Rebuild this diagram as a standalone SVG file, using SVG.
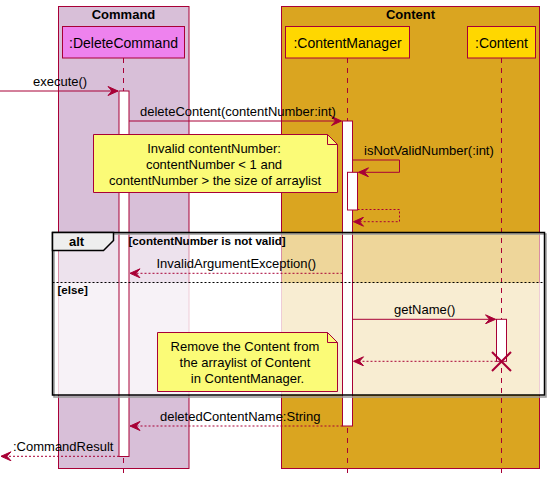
<svg xmlns="http://www.w3.org/2000/svg" width="551" height="480" viewBox="0 0 551 480">
<style>
text{font-family:"Liberation Sans",Arial,sans-serif;fill:#000}
.t{font-size:13px;font-weight:bold}
.p{font-size:14px}
.m{font-size:13px}
.g{font-size:11.6px;font-weight:bold}
.box{stroke:#A80036;stroke-width:1}
.life{stroke:#A80036;stroke-width:1;stroke-dasharray:5,5;fill:none}
.act{fill:#fff;stroke:#A80036;stroke-width:1}
.msg{stroke:#A80036;stroke-width:1;fill:none;marker-end:url(#ah)}
.ret{stroke:#A80036;stroke-width:1;fill:none;stroke-dasharray:2,2;marker-end:url(#ah)}
.note{fill:#FBFB77;stroke:#A80036;stroke-width:1}
</style>
<defs>
<marker id="ah" viewBox="-11 -5 12 10" markerWidth="12" markerHeight="10" refX="0" refY="0" orient="auto" markerUnits="userSpaceOnUse">
<path d="M0,0 L-10,-4.5 L-6,0 L-10,4.5 Z" fill="#A80036" stroke="#A80036" stroke-width="1"/>
</marker>
</defs>
<rect width="551" height="480" fill="#fff"/>
<g id="box-command">
<rect class="box" x="58.5" y="6.5" width="130.5" height="462" fill="#D8BFD8"/>
<text class="t" x="123.5" y="19" text-anchor="middle">Command</text>
</g>
<g id="box-content">
<rect class="box" x="281.5" y="6.5" width="258" height="462" fill="#DAA520"/>
<text class="t" x="410.5" y="19" text-anchor="middle">Content</text>
</g>
<g id="alt-bg">
<rect x="52" y="232" width="493" height="50.5" fill="#fff" fill-opacity="0.55"/>
<rect x="52" y="282.5" width="493" height="112.5" fill="#fff" fill-opacity="0.8"/>
</g>
<g id="lifelines">
<line class="life" x1="123.5" y1="58" x2="123.5" y2="474"/>
<line class="life" x1="347.5" y1="58" x2="347.5" y2="474"/>
<line class="life" x1="501.5" y1="58" x2="501.5" y2="474"/>
</g>
<g id="p-deletecommand">
<rect class="box" x="62.5" y="26.5" width="122" height="31.5" fill="#EE82EE"/>
<text class="p" x="123.5" y="48" text-anchor="middle">:DeleteCommand</text>
</g>
<g id="p-contentmanager">
<rect class="box" x="285.5" y="26.5" width="124" height="31.5" fill="#FFD700"/>
<text class="p" x="347.5" y="48" text-anchor="middle">:ContentManager</text>
</g>
<g id="p-content">
<rect class="box" x="467.5" y="26.5" width="68" height="31.5" fill="#FFD700"/>
<text class="p" x="501.5" y="48" text-anchor="middle">:Content</text>
</g>
<g id="activations">
<rect class="act" x="119" y="91" width="10" height="365.5"/>
<rect class="act" x="342.5" y="121" width="10" height="305"/>
<rect class="act" x="347.5" y="172.3" width="10" height="37.7"/>
<rect class="act" x="496.5" y="319.3" width="10" height="42"/>
</g>
<g id="alt-frame">
<rect x="54" y="234" width="492" height="163" fill="none" stroke="#999" stroke-width="1.5"/>
<rect x="52.5" y="232.5" width="492" height="162.5" fill="none" stroke="#000" stroke-width="1.5"/>
<path d="M52.5,232.5 H113.5 V240.5 L103.5,250.5 H52.5 Z" fill="#EEEEEE" stroke="#000" stroke-width="1.5"/>
<text class="t" x="69" y="246">alt</text>
<text class="g" x="128.5" y="244.5">[contentNumber is not valid]</text>
<line x1="52.5" y1="282.5" x2="544.5" y2="282.5" stroke="#000" stroke-width="1" stroke-dasharray="2,2"/>
<text class="g" x="57.5" y="294">[else]</text>
</g>
<g id="note-invalid">
<path class="note" d="M93.5,134.5 H327.5 L337.5,144.5 V192.5 H93.5 Z"/>
<path d="M327.5,134.5 V144.5 H337.5" fill="none" stroke="#A80036" stroke-width="1"/>
<text class="m" x="214" y="153" text-anchor="middle">Invalid contentNumber:</text>
<text class="m" x="214" y="169" text-anchor="middle">contentNumber &lt; 1 and</text>
<text class="m" x="215" y="185" text-anchor="middle">contentNumber &gt; the size of arraylist</text>
</g>
<g id="note-remove">
<path class="note" d="M157.5,332.5 H327.5 L337.5,342.5 V391.5 H157.5 Z"/>
<path d="M327.5,332.5 V342.5 H337.5" fill="none" stroke="#A80036" stroke-width="1"/>
<text class="m" x="245" y="351" text-anchor="middle">Remove the Content from</text>
<text class="m" x="245" y="367" text-anchor="middle">the arraylist of Content</text>
<text class="m" x="247.5" y="383" text-anchor="middle">in ContentManager.</text>
</g>
<g id="connectors">
<line class="msg" x1="0" y1="91" x2="118" y2="91"/>
<text class="m" x="33" y="85.5">execute()</text>
<line class="msg" x1="129" y1="121" x2="341.5" y2="121"/>
<text class="m" x="140" y="115.5">deleteContent(contentNumber:int)</text>
<path class="msg" d="M352.5,160 H399.5 V172.3 H358.5"/>
<text class="m" x="364" y="154.5">isNotValidNumber(:int)</text>
<path class="ret" d="M357.5,209.5 H399.5 V221.7 H353.5"/>
<line class="ret" x1="342.5" y1="273.3" x2="130" y2="273.3"/>
<text class="m" x="156.5" y="268">InvalidArgumentException()</text>
<line class="msg" x1="352.5" y1="319.3" x2="495.5" y2="319.3"/>
<text class="m" x="394" y="314">getName()</text>
<line class="ret" x1="496.5" y1="361.3" x2="353.5" y2="361.3"/>
<path d="M492,352 L511,371 M511,352 L492,371" stroke="#A80036" stroke-width="2" fill="none"/>
<line class="ret" x1="342.5" y1="426" x2="130" y2="426"/>
<text class="m" x="160" y="420.5">deletedContentName:String</text>
<line class="ret" x1="119" y1="456.3" x2="1" y2="456.3"/>
<text class="m" x="13" y="450.5">:CommandResult</text>
</g>
</svg>
